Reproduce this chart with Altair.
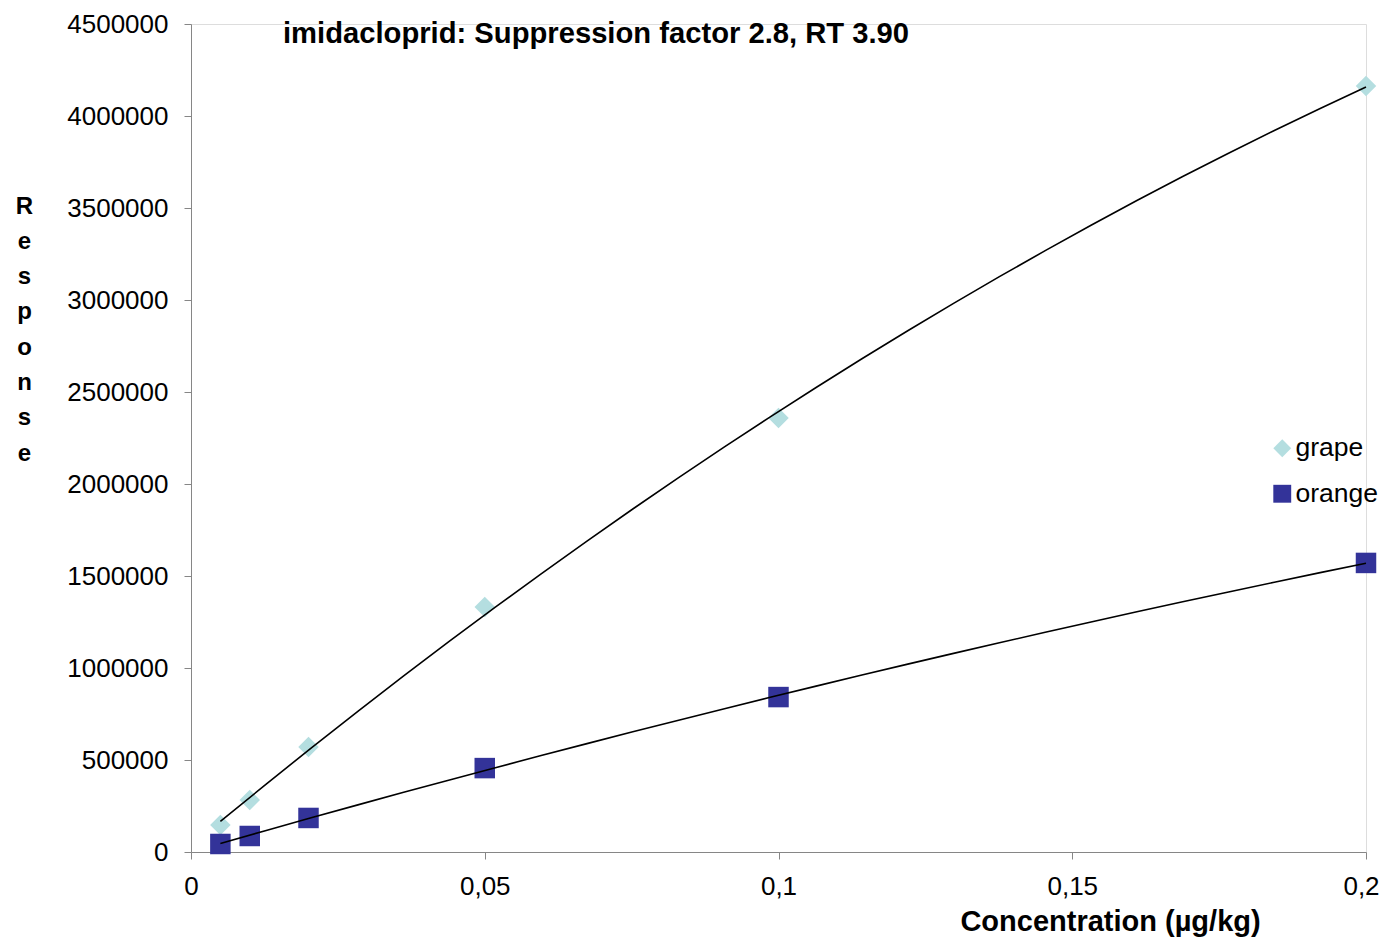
import altair as alt
import pandas as pd

conc = [0.005, 0.01, 0.02, 0.05, 0.1, 0.2]
grape = [147000, 283000, 571000, 1332000, 2359000, 4163000]
orange = [43500, 87000, 185000, 456000, 842000, 1571000]
series_names = ["grape", "orange"]
x_ticks = [0, 0.05, 0.1, 0.15, 0.2]
y_ticks = [0, 500000, 1000000, 1500000, 2000000, 2500000, 3000000, 3500000, 4000000, 4500000]

df = pd.DataFrame({
    "series": ["grape"] * len(conc) + ["orange"] * len(conc),
    "x": conc + conc,
    "y": grape + orange,
})

FONT = "Liberation Sans"

xenc = alt.X("x:Q", scale=alt.Scale(domain=[0, 0.2], nice=False, zero=True),
             axis=alt.Axis(values=x_ticks, labelExpr="replace(toString(datum.value), '.', ',')",
                           grid=False, domainColor="#868686", tickColor="#868686", tickSize=7,
                           labelFontSize=26, labelFont=FONT, labelColor="black", labelPadding=14,
                           labelFlush=False,
                           labelOffset={"condition": {"test": "datum.value >= 0.2", "value": -5}, "value": 0},
                           title="Concentration (µg/kg)", titleFont=FONT, titleFontSize=29,
                           titleFontWeight="bold", titleColor="black", titleX=919, titleY=69,
                           titleAlign="center", titleBaseline="middle"))
yenc = alt.Y("y:Q", scale=alt.Scale(domain=[0, 4500000], nice=False),
             axis=alt.Axis(values=y_ticks, format="d",
                           grid=False, domainColor="#868686", tickColor="#868686", tickSize=7,
                           labelFontSize=26, labelFont=FONT, labelColor="black", labelPadding=16,
                           labelFlush=False,
                           title=list("Response"), titleFont=FONT, titleFontSize=24,
                           titleFontWeight="bold", titleColor="black", titleAngle=0,
                           titleX=-167, titleY=170, titleAlign="center", titleBaseline="top",
                           titleLineHeight=35.3))

points = alt.Chart(df).mark_point(filled=True, size=420, opacity=1).encode(
    x=xenc, y=yenc,
    color=alt.Color("series:N", scale=alt.Scale(domain=series_names, range=["#B4DEE0", "#333399"]),
                    legend=alt.Legend(title=None, orient="none", legendX=1078, legendY=411,
                                      labelFontSize=26.5, labelFont=FONT, labelColor="black",
                                      symbolSize=320, symbolStrokeWidth=0, rowPadding=18.5,
                                      labelOffset=0)),
    shape=alt.Shape("series:N", scale=alt.Scale(domain=series_names, range=["diamond", "square"]),
                    legend=None),
)

lines = alt.Chart(df).transform_regression(
    "x", "y", method="poly", order=2, groupby=["series"]
).mark_line(color="black", strokeWidth=1.6).encode(
    x="x:Q", y="y:Q", detail="series:N"
)

chart = alt.layer(points, lines).properties(
    width=1175, height=828,
    autosize=alt.AutoSizeParams(type="none"),
    padding={"left": 183, "top": 16, "right": 16, "bottom": 85},
    title=alt.TitleParams("imidacloprid: Suppression factor 2.8, RT 3.90", anchor="start",
                          frame="group", dx=92, offset=0, baseline="top", dy=38,
                          font=FONT, fontSize=29.2, fontWeight="bold", color="black"),
).configure_view(stroke=None).configure(background="white")

chart.save("out.html", embed_options={"renderer": "svg", "actions": False})
